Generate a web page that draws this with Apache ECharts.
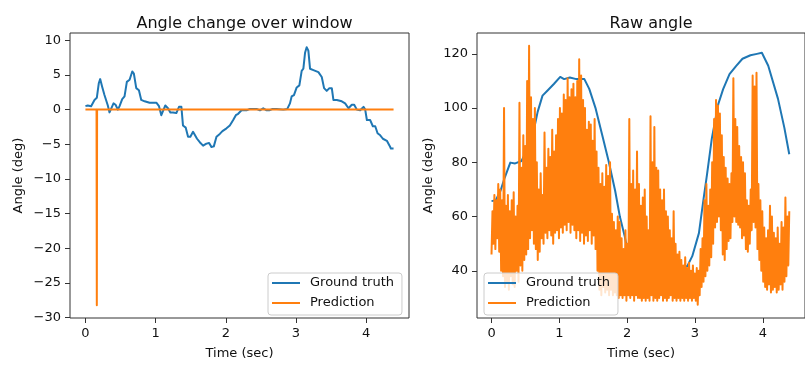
<!DOCTYPE html>
<html>
<head>
<meta charset="utf-8">
<script src="https://cdn.jsdelivr.net/npm/echarts@6/dist/echarts.min.js"></script>
<style>
  html, body { margin: 0; padding: 0; background: #fff; }
  #chart { width: 805px; height: 365px; }
</style>
</head>
<body>
<div id="chart"></div>
<script>
// ---- Left panel: change of angle over the window ----
const gtTimeL = [0, 0.033, 0.081, 0.129, 0.162, 0.190, 0.210, 0.238, 0.271, 0.295, 0.319, 0.343, 0.367, 0.400, 0.429,
  0.462, 0.486, 0.524, 0.557, 0.590, 0.629, 0.667, 0.690, 0.724, 0.762, 0.795, 0.843, 0.914, 1.010, 1.048, 1.081,
  1.105, 1.138, 1.176, 1.210, 1.248, 1.295, 1.333, 1.367, 1.390, 1.429, 1.462, 1.495, 1.533, 1.557, 1.590, 1.629,
  1.676, 1.724, 1.762, 1.795, 1.829, 1.867, 1.914, 1.952, 2.010, 2.057, 2.105, 2.143, 2.176, 2.224, 2.295, 2.343,
  2.438, 2.486, 2.533, 2.581, 2.619, 2.667, 2.724, 2.819, 2.876, 2.914, 2.938, 2.971, 3.010, 3.048, 3.081, 3.105,
  3.129, 3.152, 3.176, 3.200, 3.248, 3.319, 3.367, 3.400, 3.438, 3.476, 3.510, 3.533, 3.581, 3.652, 3.700, 3.748,
  3.795, 3.829, 3.867, 3.914, 3.962, 3.986, 4.010, 4.057, 4.095, 4.129, 4.162, 4.200, 4.238, 4.295, 4.333, 4.352, 4.390];
const gtChangeL = [0.5, 0.6, 0.5, 1.4, 1.7, 3.8, 4.4, 3.3, 2.1, 1.9, 0.6, -0.4, -0.2, 0.9, 0.7,
  0.0, 0.5, 1.5, 1.9, 4.0, 4.3, 5.5, 5.2, 3.1, 2.8, 1.4, 1.2, 1.0, 1.0, 0.5, -0.8,
  -0.7, 0.6, 0.2, -0.4, -0.4, -0.5, 0.4, 0.4, -2.3, -2.6, -3.9, -3.9, -3.2, -3.1, -4.2, -4.7,
  -5.2, -4.9, -4.8, -5.4, -5.3, -3.9, -3.5, -3.1, -2.7, -2.3, -1.5, -0.8, -0.6, -0.1, -0.1, 0.1,
  0.1, -0.1, 0.2, -0.1, -0.1, 0.1, 0.1, 0.0, 0.1, 0.9, 1.9, 2.1, 3.2, 3.5, 5.6, 5.9,
  8.2, 9.0, 8.5, 5.9, 5.7, 5.4, 4.7, 3.1, 2.7, 3.1, 3.1, 1.4, 1.4, 1.2, 0.9, 0.2,
  0.7, 0.7, 0.0, -0.1, 0.4, 0.0, -1.5, -1.5, -2.4, -2.4, -3.4, -3.7, -4.2, -4.5, -5.2, -5.6, -5.6];
const predTimeL = [0, 0.158, 0.162, 0.166, 4.390];
const predChangeL = [0, 0, -28.2, 0, 0];

// ---- Right panel: raw angle ----
const gtTimeR = [0, 0.063, 0.134, 0.195, 0.277, 0.348, 0.442, 0.530, 0.609, 0.680, 0.752, 0.823, 0.919, 1.013,
  1.070, 1.155, 1.251, 1.369, 1.441, 1.536, 1.632, 1.726, 1.822, 1.893, 1.964, 2.011, 2.100, 2.300, 2.600,
  2.816, 2.888, 2.960, 3.058, 3.130, 3.177, 3.249, 3.344, 3.415, 3.509, 3.605, 3.700, 3.818, 3.914, 3.986,
  4.080, 4.223, 4.318, 4.390];
const gtRawR = [65.7, 66.0, 69.6, 74.4, 79.9, 79.6, 80.5, 85.0, 90.1, 98.6, 104.6, 106.4, 108.9, 111.5,
  110.7, 111.3, 110.7, 110.7, 107.1, 99.8, 90.1, 80.5, 69.6, 59.9, 52.7, 46.6, 44.0, 42.0, 41.0,
  41.2, 41.8, 45.4, 53.9, 67.2, 75.5, 88.9, 101.5, 107.0, 112.5, 115.5, 118.2, 119.5, 120.0, 120.4,
  115.6, 103.5, 92.7, 83.0];

// Predicted raw angle, one sample per step of predStepR seconds
const predStepR = 4.39 / 309;
const predRawR = [
  46, 62, 50, 68, 48, 66, 52, 72, 47, 70, 40, 66, 38, 100, 34, 64, 36, 68, 33, 62,
  38, 66, 35, 69, 34, 60, 40, 64, 36, 102, 42, 78, 40, 90, 44, 86, 46, 110, 48, 123,
  52, 104, 55, 96, 50, 100, 48, 80, 44, 70, 47, 76, 52, 68, 50, 91, 54, 78, 52, 85,
  55, 82, 53, 92, 50, 84, 54, 90, 55, 96, 52, 100, 56, 98, 54, 105, 57, 103, 55, 111,
  58, 104, 54, 107, 57, 109, 55, 104, 52, 110, 55, 118, 51, 112, 54, 103, 50, 100, 53, 92,
  51, 95, 55, 94, 50, 88, 53, 96, 48, 84, 40, 78, 33, 72, 31, 76, 34, 71, 32, 79,
  33, 75, 31, 80, 33, 61, 31, 58, 32, 55, 31, 60, 30, 58, 31, 52, 30, 48, 31, 55,
  29, 50, 31, 96, 30, 72, 31, 77, 29, 70, 31, 84, 30, 72, 30, 64, 29, 67, 30, 70,
  29, 60, 30, 55, 29, 97, 31, 80, 29, 93, 30, 78, 29, 77, 30, 70, 31, 66, 29, 70,
  30, 62, 29, 60, 30, 55, 31, 52, 29, 62, 30, 50, 29, 46, 30, 47, 29, 44, 30, 42,
  29, 45, 30, 41, 29, 43, 30, 40, 29, 42, 30, 39, 29, 41, 27.5, 40, 31, 48, 34, 52,
  36, 66, 38, 72, 40, 64, 42, 70, 45, 80, 50, 96, 56, 103, 58, 101, 60, 98, 55, 90,
  46, 82, 44, 78, 48, 74, 51, 72, 52, 76, 58, 111, 60, 96, 58, 93, 57, 86, 56, 82,
  52, 80, 53, 76, 48, 66, 47, 64, 50, 70, 55, 112, 58, 108, 56, 113, 48, 72, 44, 66,
  40, 62, 36, 56, 34, 52, 33, 55, 35, 64, 32, 60, 33, 54, 34, 52, 32, 56, 33, 50,
  35, 58, 33, 56, 36, 67, 38, 60, 42, 62
];

const xTicks = [0, 1, 2, 3, 4];
const yTicksL = [-30, -25, -20, -15, -10, -5, 0, 5, 10];
const yTicksR = [40, 60, 80, 100, 120];

const BLUE = '#1f77b4';
const ORANGE = '#ff7f0e';
const FONT = 'DejaVu Sans';
const INK = '#111';

const pairs = (xs, ys) => xs.map((x, i) => [x, ys[i]]);
const predPairsR = predRawR.map((v, i) => [i * predStepR, v]);

const minusSign = v => String(v).replace('-', '\u2212');

function xAxisCfg(gridIndex, min, max) {
  return {
    type: 'value', gridIndex, min, max, position: 'bottom',
    name: 'Time (sec)', nameLocation: 'middle', nameGap: 29,
    nameTextStyle: { fontFamily: FONT, fontSize: 13, color: INK },
    axisLine: { show: false, onZero: false },
    splitLine: { show: false },
    axisTick: { show: true, length: 5, lineStyle: { color: '#333', width: 1 }, customValues: xTicks },
    axisLabel: { fontFamily: FONT, fontSize: 13, color: INK, margin: 9, customValues: xTicks, formatter: minusSign }
  };
}
function yAxisCfg(gridIndex, min, max, ticks, gap) {
  return {
    type: 'value', gridIndex, min, max, position: 'left',
    name: 'Angle (deg)', nameLocation: 'middle', nameGap: gap, nameRotate: 90,
    nameTextStyle: { fontFamily: FONT, fontSize: 13, color: INK },
    axisLine: { show: false, onZero: false },
    splitLine: { show: false },
    axisTick: { show: true, length: 5, lineStyle: { color: '#333', width: 1 }, customValues: ticks },
    axisLabel: { fontFamily: FONT, fontSize: 13, color: INK, margin: 9, customValues: ticks, formatter: minusSign }
  };
}
function legendCfg(left) {
  return {
    data: ['Ground truth', 'Prediction'],
    orient: 'vertical', left, top: 273,
    icon: 'rect', itemWidth: 28, itemHeight: 2, itemGap: 6,
    padding: [3, 8, 5, 4],
    backgroundColor: 'rgba(255,255,255,0.8)',
    borderColor: '#cccccc', borderWidth: 1, borderRadius: 3,
    textStyle: { fontFamily: FONT, fontSize: 13, color: INK, lineHeight: 14, padding: [0, 0, 0, 5] },
    selectedMode: false
  };
}
function lineSeries(name, color, xi, yi, data, z) {
  return {
    name, type: 'line', xAxisIndex: xi, yAxisIndex: yi, data, color,
    showSymbol: false, symbol: 'none', z,
    lineStyle: { color, width: 2, join: 'round' },
    clip: true, animation: false
  };
}

const chart = echarts.init(document.getElementById('chart'), null, { renderer: 'canvas' });
chart.setOption({
  animation: false,
  backgroundColor: '#fff',
  title: [
    { text: 'Angle change over window', left: 239.5, top: 11, textAlign: 'center',
      textStyle: { fontFamily: FONT, fontSize: 16, fontWeight: 'normal', color: INK } },
    { text: 'Raw angle', left: 646, top: 11, textAlign: 'center',
      textStyle: { fontFamily: FONT, fontSize: 16, fontWeight: 'normal', color: INK } }
  ],
  grid: [
    { left: 70, top: 33, width: 339, height: 290, show: true, borderColor: '#333', borderWidth: 1, backgroundColor: 'transparent' },
    { left: 477, top: 33, width: 339, height: 290, show: true, borderColor: '#333', borderWidth: 1, backgroundColor: 'transparent' }
  ],
  xAxis: [xAxisCfg(0, -0.22, 4.61), xAxisCfg(1, -0.214, 4.622)],
  yAxis: [yAxisCfg(0, -30.05, 11.05, yTicksL, 45), yAxisCfg(1, 22.6, 127.7, yTicksR, 42)],
  legend: [legendCfg(268), legendCfg(484)],
  series: [
    lineSeries('Ground truth', BLUE, 0, 0, pairs(gtTimeL, gtChangeL), 2),
    lineSeries('Prediction', ORANGE, 0, 0, pairs(predTimeL, predChangeL), 3),
    lineSeries('Ground truth', BLUE, 1, 1, pairs(gtTimeR, gtRawR), 2),
    lineSeries('Prediction', ORANGE, 1, 1, predPairsR, 3)
  ]
});
</script>
</body>
</html>
